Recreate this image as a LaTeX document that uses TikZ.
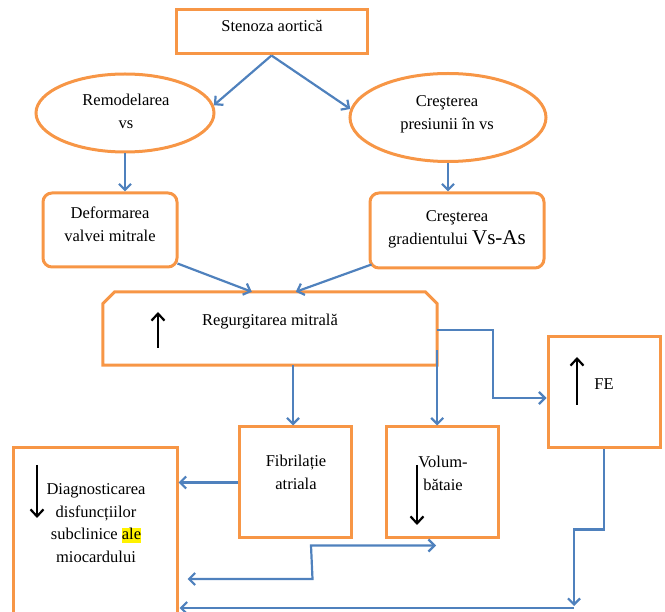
\documentclass[tikz,border=0pt]{standalone}
\usepackage{fontspec}
\setmainfont{Liberation Serif}
\usetikzlibrary{arrows.meta,shapes.geometric,calc}
\definecolor{bl}{HTML}{4F81BD}
\definecolor{orn}{HTML}{F79646}
\newcommand{\hlyel}[1]{{\setlength{\fboxsep}{0pt}\colorbox{yellow}{\rule[-3.5pt]{0pt}{15pt}#1}}}
\begin{document}
\begin{tikzpicture}[x=1pt,y=-1pt,
  box/.style={draw=orn, line width=3pt, inner sep=0pt, minimum width=#1},
  rbox/.style={box=#1, rounded corners=9pt},
  oval/.style={draw=orn, line width=3pt, inner sep=0pt, ellipse, minimum width=#1},
  conn/.style={draw=bl, line width=2.2pt, -{Straight Barb[length=6pt,width=12pt]}},
  dconn/.style={draw=bl, line width=2.2pt, {Straight Barb[length=6pt,width=12pt]}-{Straight Barb[length=6pt,width=12pt]}},
  blk/.style={draw=black, line width=2.2pt, -{Straight Barb[length=7pt,width=13pt]}},
  txt/.style={align=center, font=\fontsize{16.5}{23}\selectfont, inner sep=0pt}
]
\useasboundingbox (0,0) rectangle (665,612);
\clip (0,0) rectangle (665,612);

% shapes
\node[box=191pt, minimum height=44pt] (sten) at (271.5,32) {};
\node[oval=178pt, minimum height=78pt] (remod) at (125,113) {};
\node[oval=196pt, minimum height=88pt] (pres) at (448,117.5) {};
\node[rbox=134pt, minimum height=74pt] (def) at (110,230) {};
\node[rbox=174pt, minimum height=75pt] (grad) at (457,230.5) {};
\node[inner sep=0pt, minimum width=334pt, minimum height=73pt] (regurg) at (270,328.5) {};
\draw[orn, line width=3pt, line join=miter]
  (regurg.south west) -- ($(regurg.north west)+(0,12)$) -- ($(regurg.north west)+(12,0)$)
  -- ($(regurg.north east)+(-12,0)$) -- ($(regurg.north east)+(0,12)$) -- (regurg.south east) -- cycle;
\node[box=112pt, minimum height=111pt] (fe) at (604,392.5) {};
\node[box=112pt, minimum height=111pt] (fib) at (295,482.5) {};
\node[box=112pt, minimum height=111pt] (vol) at (442,482.5) {};
\node[box=164pt, minimum height=192pt] (diag) at (95,544) {};

% texts
\node[txt, anchor=base] (tsten) at (272,32) {Stenoza aortică};
\node[txt, anchor=base] (tremod) at (126,129) {Remodelarea\\vs};
\node[txt, anchor=base] (tpres) at (447,130) {Creşterea\\presiunii în vs};
\node[txt, anchor=base] (tdef) at (110,242) {Deformarea\\valvei mitrale};
\node[txt, anchor=base] (tgrad) at (457,245) {Creşterea\\gradientului {\fontsize{21}{23}\selectfont Vs-As}};
\node[txt, anchor=base] (treg) at (270,326) {Regurgitarea mitrală};
\node[txt, anchor=base] (tfe) at (604,390) {FE};
\node[txt, anchor=base] (tfib) at (296,490) {Fibrilație\\atriala};
\node[txt, anchor=base] (tvol) at (443,491) {Volum-\\bătaie};
\node[txt, anchor=base] (tdiag) at (96,563) {Diagnosticarea\\disfuncțiilor\\subclinice \hlyel{ale}\\miocardului};

% black arrows
\coordinate (ra1) at (158,348); \coordinate (ra2) at (158,312);
\draw[blk] (ra1) -- (ra2);
\coordinate (fa1) at (577,405); \coordinate (fa2) at (577,357);
\draw[blk] (fa1) -- (fa2);
\coordinate (da1) at (37,465); \coordinate (da2) at (37,518);
\draw[blk] (da1) -- (da2);
\coordinate (va1) at (417,465); \coordinate (va2) at (417,525);
\draw[blk] (va1) -- (va2);

% connectors
\draw[conn] (sten.south) -- (remod.5);
\draw[conn] (sten.south) -- (pres.175);
\draw[conn] (remod.south) -- (remod.south |- def.north);
\draw[conn] (pres.south) -- (pres.south |- grad.north);
\draw[conn] ($(def.south east)+(-1,-5)$) -- ($(regurg.north west)+(149,0)$);
\draw[conn] ($(grad.south west)+(3,-5)$) -- ($(regurg.north west)+(193,0)$);
\draw[conn] ($(regurg.east)+(0,1.5)$) -- ++(56,0) |- ($(fe.west)+(0,5.5)$);
\draw[conn] (regurg.south -| fib.north) ++(-2,0) coordinate (rf) -- (rf |- fib.north);
\draw[conn] ($(regurg.south east)+(0,-15)$) coordinate (rv) -- (rv |- vol.north);
\draw[conn] (fib.west) -- (fib.west -| diag.east);
\draw[dconn] ($(diag.east)+(9,35)$) -- ($(diag.east)+(134,35)$) -- ($(vol.south)+(-131,6)$) -- ($(vol.south)+(-6,6)$);
\coordinate (bot) at (574,606);
\draw[conn] (fe.south) -- ++(0,80) -- ++(-30,0) -- (bot);
\draw[conn] ($(bot)+(0,2)$) -- ($(bot -| diag.east)+(1,2)$);
\end{tikzpicture}
\end{document}
